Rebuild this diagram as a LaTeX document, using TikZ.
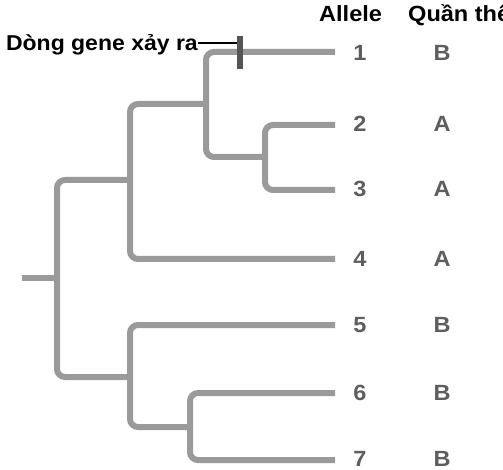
\documentclass[tikz,border=0pt]{standalone}
\usepackage{fontspec}
\newfontfamily\treefont[FakeStretch=1.07]{Liberation Sans}
\definecolor{branchgray}{HTML}{9A9A9A}
\definecolor{labelgray}{HTML}{5E5E5E}
\definecolor{tickgray}{HTML}{555555}
\tikzset{
  branch/.style={draw=branchgray,line width=6pt,rounded corners=8pt},
  header/.style={font=\treefont\bfseries\fontsize{22}{24}\selectfont,text=black,anchor=base west,inner sep=0pt},
  leaflabel/.style={font=\treefont\bfseries\fontsize{22}{24}\selectfont,text=labelgray,anchor=base,inner sep=0pt},
  flowlabel/.style={font=\treefont\bfseries\fontsize{21.5}{24}\selectfont,text=black,anchor=base east,inner sep=0pt},
  flowtick/.style={fill=tickgray,minimum width=6pt,minimum height=33pt,inner sep=0pt},
  flowline/.style={draw=black,line width=2.5pt}
}
\begin{document}
\begin{tikzpicture}[x=1pt,y=-1pt]
\path[use as bounding box] (0,0) rectangle (503,470);
% headers
\node[header] (hallele) at (319,22) {Allele}; \node[header] (hpop) at (408,22) {Quần thể};
% leaf labels
\node[leaflabel] (a1) at (360,61) {1}; \node[leaflabel] (p1) at (442,61) {B};
\node[leaflabel] (a2) at (360,132) {2}; \node[leaflabel] (p2) at (442,132) {A};
\node[leaflabel] (a3) at (360,197) {3}; \node[leaflabel] (p3) at (442,197) {A};
\node[leaflabel] (a4) at (360,266) {4}; \node[leaflabel] (p4) at (442,266) {A};
\node[leaflabel] (a5) at (360,332) {5}; \node[leaflabel] (p5) at (442,332) {B};
\node[leaflabel] (a6) at (360,400) {6}; \node[leaflabel] (p6) at (442,400) {B};
\node[leaflabel] (a7) at (360,466) {7}; \node[leaflabel] (p7) at (442,466) {B};
% branch ends and joins
\coordinate (e1) at (335,52); \coordinate (e2) at (335,125); \coordinate (e3) at (335,190); \coordinate (e4) at (335,259);
\coordinate (e5) at (335,325); \coordinate (e6) at (335,393); \coordinate (e7) at (335,460);
\coordinate (j23) at (265,157); \coordinate (j123) at (206,104); \coordinate (j1234) at (130,180);
\coordinate (j67) at (190,427); \coordinate (j567) at (130,377); \coordinate (root) at (57,278); \coordinate (base) at (22,278);
% tree
\draw[branch] (e2) -| (j23) |- (e3);
\draw[branch] (e1) -| (j123) |- (j23);
\draw[branch] (j123) -| (j1234) |- (e4);
\draw[branch] (e6) -| (j67) |- (e7);
\draw[branch] (e5) -| (j567) |- (j67);
\draw[branch] (j1234) -| (root) |- (j567);
\draw[branch] (base) -- (root);
% gene flow mark
\node[flowtick] (tick) at (240,53) {};
\node[flowlabel] (flow) at (198,51) {Dòng gene xảy ra};
\draw[flowline] ([yshift=8pt]flow.base east) -- ([yshift=8pt]flow.base east -| tick.west);
\end{tikzpicture}
\end{document}
